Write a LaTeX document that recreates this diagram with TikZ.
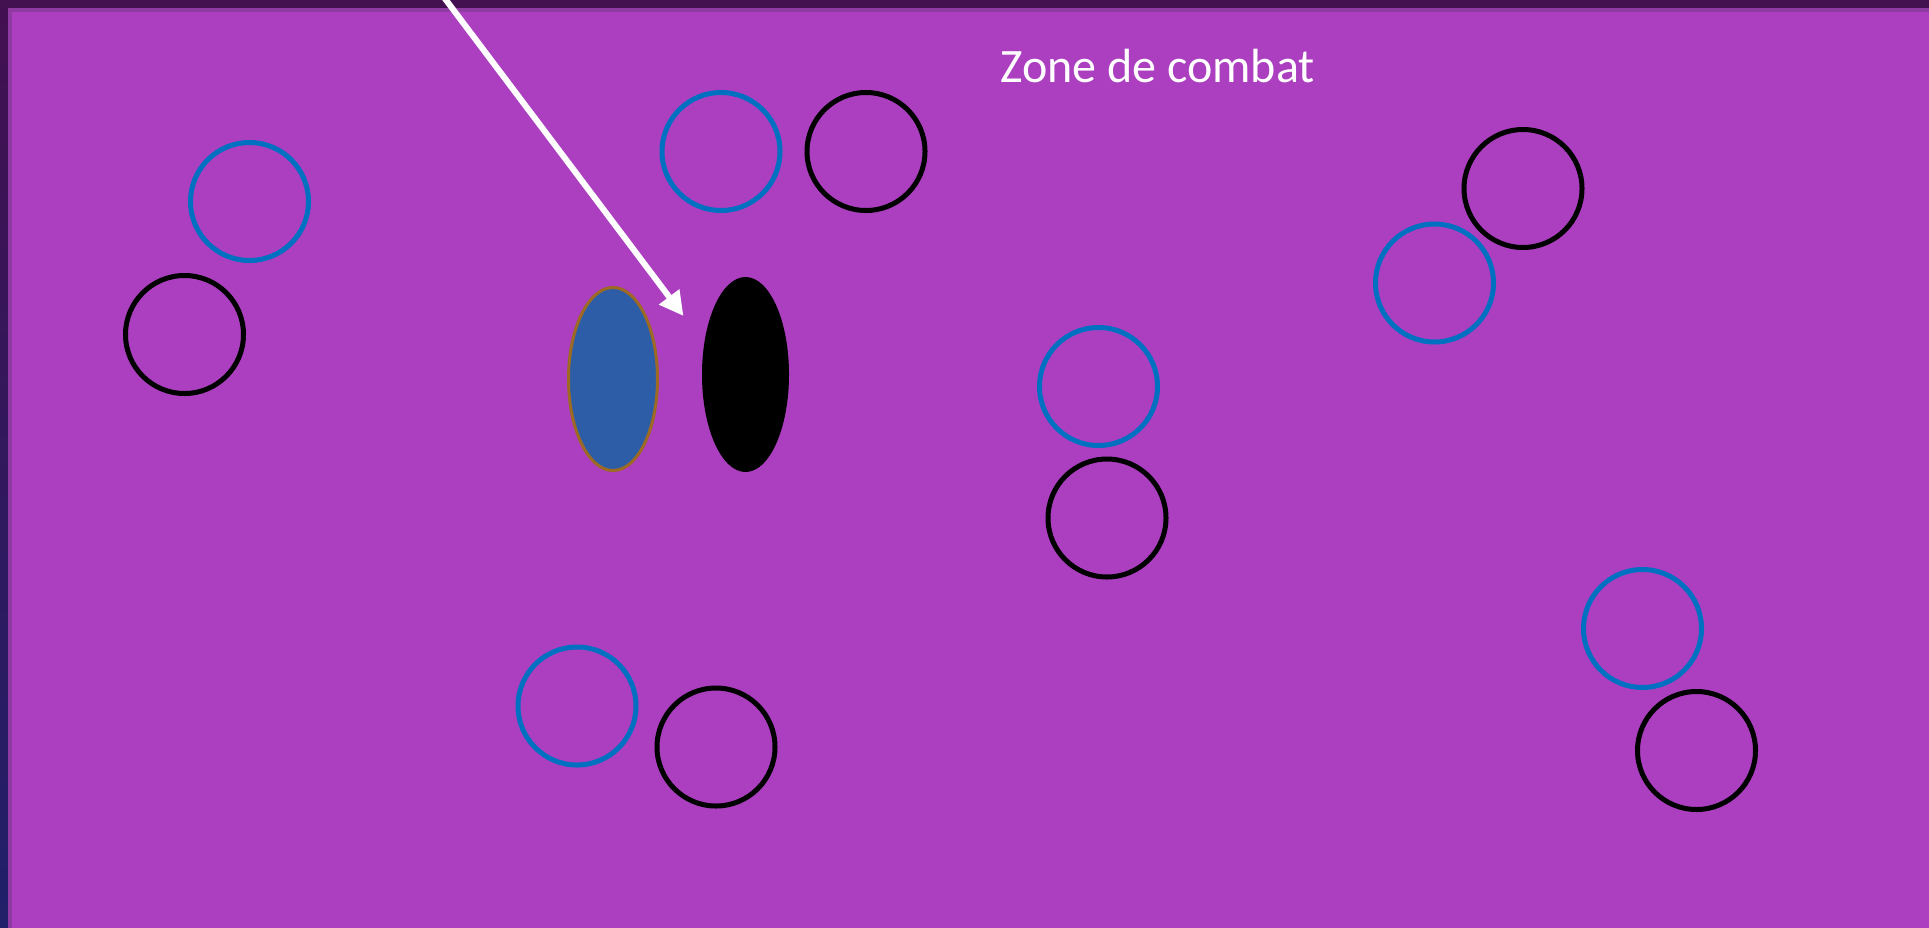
\documentclass[tikz,border=0pt]{standalone}
\usepackage{fontspec}
\setmainfont{Carlito}
\usetikzlibrary{arrows.meta,shapes.geometric}
\definecolor{bgtop}{HTML}{431050}
\definecolor{bgbot}{HTML}{20206A}
\definecolor{zone}{HTML}{AB3FC0}
\definecolor{zoneedge}{HTML}{8E3AA0}
\definecolor{bluering}{HTML}{0070C0}
\definecolor{bluefill}{HTML}{2E5DA8}
\definecolor{goldedge}{HTML}{9C6A22}
\tikzset{
  ring/.style={circle, draw, line width=5pt, minimum size=118pt, inner sep=0pt},
  bluer/.style={ring, draw=bluering},
  blackr/.style={ring, draw=black},
  arr/.style={draw=white, line width=6pt, -{Triangle[length=24pt,width=24pt]}},
}
\begin{document}
\begin{tikzpicture}[x=1pt,y=-1pt]
\useasboundingbox (0,0) rectangle (1929,927);
\shade[top color=bgtop, bottom color=bgbot] (-5,-5) rectangle (1935,935);
\fill[bgtop] (-5,-5) rectangle (1935,10);
\fill[zoneedge] (8,8) rectangle (1935,935);
\fill[zone] (12,12) rectangle (1935,935);
\node[text=white, font=\fontsize{48}{56}\selectfont] (title) at (1157.5,66) {Zone de combat};
% rings
\node[bluer]  (b1) at (249.5,201.5) {};
\node[blackr] (k1) at (184.5,334.5) {};
\node[bluer]  (b2) at (721,151.5) {};
\node[blackr] (k2) at (866,151.5) {};
\node[bluer]  (b3) at (1098.5,386.5) {};
\node[blackr] (k3) at (1107,518) {};
\node[bluer]  (b4) at (1434.5,283) {};
\node[blackr] (k4) at (1523,188.5) {};
\node[bluer]  (b5) at (577,706) {};
\node[blackr] (k5) at (716,747) {};
\node[bluer]  (b6) at (1642.5,628.5) {};
\node[blackr] (k6) at (1696.5,750.5) {};
% players
\node[ellipse, fill=bluefill, draw=goldedge, line width=3pt, minimum width=89pt, minimum height=183pt, inner sep=0pt] (pb) at (613,379) {};
\node[ellipse, fill=black, minimum width=87pt, minimum height=195pt, inner sep=0pt] (pk) at (745.5,374.5) {};
% arrow
\coordinate (as) at (443,-4);
\coordinate (ae) at (683.5,316);
\draw[arr] (as) -- (ae);
\end{tikzpicture}
\end{document}
